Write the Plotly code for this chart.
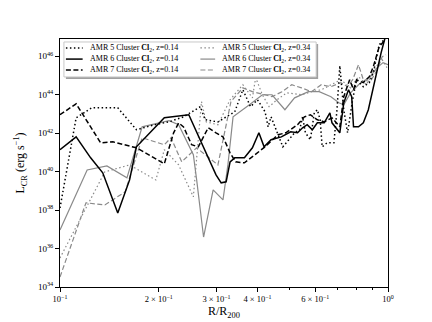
import numpy as np
import plotly.graph_objects as go

# Radii (R/R200) and log10 of CR luminosity
r_amr5_z014 = [0.100, 0.112, 0.125, 0.150, 0.171, 0.194, 0.215, 0.238, 0.268, 0.277, 0.303, 0.321, 0.341, 0.361,
               0.381, 0.400, 0.422, 0.431, 0.440, 0.478, 0.519, 0.538, 0.549, 0.560, 0.580, 0.596, 0.609, 0.621,
               0.630, 0.652, 0.684, 0.699, 0.713, 0.733, 0.753, 0.780, 0.802, 0.841, 0.877, 0.902, 0.940, 0.973]
logl_amr5_z014 = [38.11, 42.80, 43.32, 43.32, 42.18, 42.44, 42.59, 42.85, 43.38, 42.70, 42.59, 42.85, 43.11, 44.26,
                  43.38, 43.74, 43.11, 42.33, 42.85, 41.29, 42.02, 42.18, 42.85, 42.02, 41.66, 43.06, 43.22, 42.70,
                  41.29, 41.50, 41.50, 43.22, 45.51, 43.22, 42.02, 43.74, 44.78, 44.42, 44.63, 45.15, 46.60, 46.86]

r_amr6_z014 = [0.100, 0.112, 0.124, 0.135, 0.150, 0.163, 0.171, 0.208, 0.247, 0.268, 0.299, 0.310, 0.321, 0.330,
               0.341, 0.365, 0.386, 0.404, 0.419, 0.440, 0.473, 0.505, 0.530, 0.549, 0.567, 0.588, 0.609, 0.639,
               0.665, 0.675, 0.699, 0.713, 0.733, 0.758, 0.775, 0.785, 0.813, 0.841, 0.871, 0.902, 0.920, 0.953, 0.980]
logl_amr6_z014 = [41.14, 41.81, 40.72, 39.94, 37.85, 39.57, 41.29, 42.80, 42.96, 41.66, 39.83, 39.42, 39.47, 40.51,
                  40.72, 40.72, 41.24, 42.02, 41.29, 41.66, 41.81, 42.07, 42.02, 42.28, 42.44, 42.18, 42.54, 42.54,
                  43.06, 42.54, 42.18, 42.02, 43.58, 44.26, 43.90, 42.33, 42.33, 42.54, 43.22, 44.42, 44.94, 46.19, 46.97]

r_amr7_z014 = [0.100, 0.112, 0.133, 0.145, 0.171, 0.208, 0.222, 0.230, 0.238, 0.252, 0.264, 0.283, 0.299, 0.314,
               0.330, 0.343, 0.365, 0.386, 0.422, 0.462, 0.488, 0.530, 0.556, 0.580, 0.609, 0.639, 0.675, 0.713,
               0.733, 0.764, 0.785, 0.802, 0.841, 0.877, 0.902, 0.940, 0.980]
logl_amr7_z014 = [42.96, 43.53, 41.50, 41.55, 41.24, 40.41, 42.02, 42.54, 42.33, 41.40, 41.29, 42.28, 42.02, 41.81,
                  40.98, 40.51, 40.46, 40.77, 41.29, 41.92, 42.02, 42.44, 42.85, 42.96, 42.70, 42.59, 42.80, 42.33,
                  43.90, 44.78, 44.26, 44.78, 44.63, 44.94, 45.46, 46.50, 46.86]

r_amr5_z034 = [0.100, 0.122, 0.137, 0.163, 0.196, 0.208, 0.230, 0.255, 0.270, 0.279, 0.303, 0.330, 0.361, 0.386,
               0.395, 0.414, 0.434, 0.459, 0.491, 0.545, 0.584, 0.626, 0.670, 0.718, 0.769, 0.813, 0.859, 0.914,
               0.960, 0.993]
logl_amr5_z034 = [35.51, 38.38, 39.99, 40.35, 39.57, 41.14, 40.35, 38.69, 43.64, 42.59, 42.44, 43.74, 44.52, 43.84,
                  44.89, 44.00, 43.38, 43.74, 44.10, 44.00, 44.16, 44.26, 44.52, 44.78, 44.36, 44.94, 44.52, 45.41,
                  45.82, 45.41]

r_amr6_z034 = [0.100, 0.121, 0.139, 0.160, 0.178, 0.215, 0.230, 0.255, 0.261, 0.274, 0.293, 0.314, 0.325, 0.337,
               0.378, 0.414, 0.443, 0.485, 0.519, 0.572, 0.617, 0.670, 0.708, 0.733, 0.769, 0.813, 0.883, 0.927,
               0.966, 1.000]
logl_amr6_z034 = [36.97, 40.09, 40.30, 39.68, 42.33, 42.65, 42.44, 40.88, 39.57, 36.60, 39.05, 38.53, 40.35, 42.85,
                  43.48, 44.00, 44.00, 43.22, 43.84, 44.16, 44.16, 43.90, 43.58, 43.48, 44.10, 44.52, 44.94, 45.41,
                  45.67, 45.56]

r_amr7_z034 = [0.100, 0.120, 0.137, 0.158, 0.178, 0.208, 0.218, 0.235, 0.261, 0.277, 0.303, 0.332, 0.361, 0.386,
               0.443, 0.475, 0.509, 0.545, 0.584, 0.626, 0.670, 0.718, 0.753, 0.780, 0.813, 0.841, 0.883, 0.927,
               0.960, 0.986]
logl_amr7_z034 = [34.52, 38.38, 38.27, 38.95, 41.76, 41.40, 41.76, 40.51, 41.24, 40.88, 40.35, 43.64, 44.36, 44.16,
                  43.90, 44.16, 44.52, 44.36, 44.16, 44.52, 44.42, 44.63, 44.42, 44.78, 45.56, 44.78, 44.68, 45.30,
                  45.98, 46.08]

x_major = [0.1, 0.2, 0.3, 0.4, 0.6, 1.0]
x_major_text = ["10<sup>−1</sup>", "2 × 10<sup>−1</sup>", "3 × 10<sup>−1</sup>", "4 × 10<sup>−1</sup>",
                "6 × 10<sup>−1</sup>", "10<sup>0</sup>"]
x_minor = [0.5, 0.7, 0.8, 0.9]
y_exp = [34, 36, 38, 40, 42, 44, 46]

SERIF = "Liberation Serif"
GREY = "#8a8a8a"
DOT = "1.5px,2.5px"
DASH = "5px,2.5px"

# (name, r, logL, colour, width, dash, legend column, legend row)
series = [
    ("AMR 5 Cluster <b>Cl</b><sub>2</sub>, z=0.34", r_amr5_z034, logl_amr5_z034, GREY, 1.2, DOT, 1, 0),
    ("AMR 6 Cluster <b>Cl</b><sub>2</sub>, z=0.34", r_amr6_z034, logl_amr6_z034, GREY, 1.2, "solid", 1, 1),
    ("AMR 7 Cluster <b>Cl</b><sub>2</sub>, z=0.34", r_amr7_z034, logl_amr7_z034, GREY, 1.2, DASH, 1, 2),
    ("AMR 5 Cluster <b>Cl</b><sub>2</sub>, z=0.14", r_amr5_z014, logl_amr5_z014, "black", 1.5, DOT, 0, 0),
    ("AMR 6 Cluster <b>Cl</b><sub>2</sub>, z=0.14", r_amr6_z014, logl_amr6_z014, "black", 1.5, "solid", 0, 1),
    ("AMR 7 Cluster <b>Cl</b><sub>2</sub>, z=0.14", r_amr7_z014, logl_amr7_z014, "black", 1.5, DASH, 0, 2),
]

fig = go.Figure()
for name, r, logl, colour, width, dash, col, row in series:
    fig.add_trace(go.Scatter(
        x=r, y=10 ** np.array(logl), mode="lines", name=name, showlegend=False,
        line=dict(color=colour, width=width, dash=dash),
    ))

# Two-column framed legend (matplotlib style, with shadow) in paper coords
fig.add_shape(type="rect", xref="paper", yref="paper", x0=0.018, x1=0.787, y0=0.839, y1=0.980,
              fillcolor="#a0a0a0", line=dict(width=0), layer="above")
fig.add_shape(type="rect", xref="paper", yref="paper", x0=0.012, x1=0.781, y0=0.847, y1=0.988,
              fillcolor="white", line=dict(color="#c8c8c8", width=1), layer="above")
col_line_x = [(0.018, 0.069), (0.428, 0.473)]
col_text_x = [0.084, 0.488]
row_y = [0.964, 0.919, 0.875]
for name, r, logl, colour, width, dash, col, row in series:
    x0, x1 = col_line_x[col]
    fig.add_shape(type="line", xref="paper", yref="paper", x0=x0, x1=x1, y0=row_y[row], y1=row_y[row],
                  line=dict(color=colour, width=width, dash=dash), layer="above")
    fig.add_annotation(xref="paper", yref="paper", x=col_text_x[col], y=row_y[row], text=name,
                       showarrow=False, xanchor="left", yanchor="middle",
                       font=dict(family=SERIF, size=8, color="black"))

# x-axis title placed like matplotlib's xlabel
fig.add_annotation(xref="paper", yref="paper", x=0.5, y=-0.062, text="R/R<sub>200</sub>",
                   showarrow=False, xanchor="center", yanchor="top",
                   font=dict(family=SERIF, size=12, color="black"))

# the page body keeps its default 8px margin, so the figure is 8px smaller than the window
fig.update_layout(
    width=424, height=314,
    margin=dict(l=46, r=44, t=31, b=35),
    paper_bgcolor="white", plot_bgcolor="white",
    font=dict(family=SERIF, color="black", size=9),
    showlegend=False,
    xaxis=dict(
        type="log", range=[-1, 0],
        tickvals=x_major, ticktext=x_major_text, tickfont=dict(size=8.5),
        ticks="outside", ticklen=4, tickcolor="black",
        minor=dict(tickvals=x_minor, ticks="outside", ticklen=2, tickcolor="black"),
        showline=True, linecolor="black", linewidth=1, mirror=True,
        showgrid=False, zeroline=False,
    ),
    yaxis=dict(
        type="log", range=[34, 46.9],
        tickvals=[10.0 ** e for e in y_exp], ticktext=[f"10<sup>{e}</sup>" for e in y_exp],
        ticks="outside", ticklen=4, tickcolor="black",
        showline=True, linecolor="black", linewidth=1, mirror=True,
        showgrid=False, zeroline=False,
        title=dict(text="L<sub>CR</sub> (erg s<sup>−1</sup>)", font=dict(size=12), standoff=10),
    ),
)

fig.write_html("out.html")
